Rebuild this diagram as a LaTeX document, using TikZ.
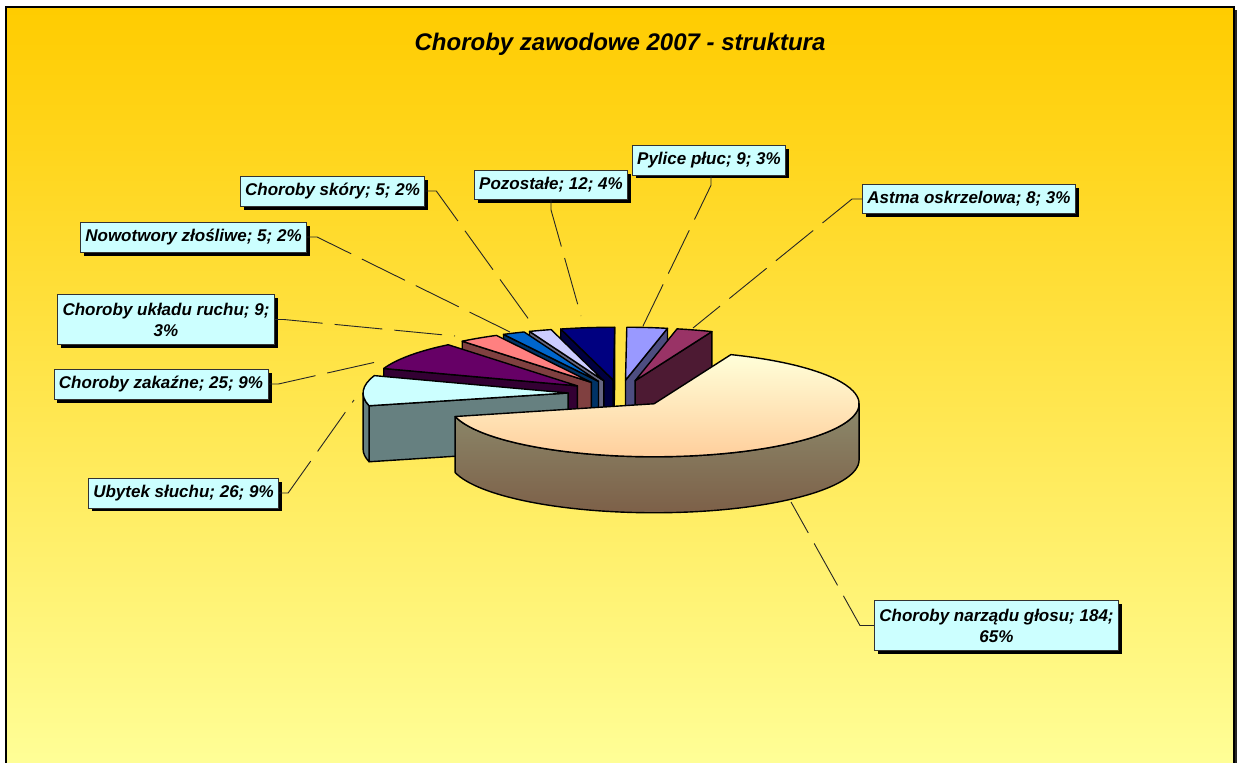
\documentclass[tikz,border=0pt]{standalone}
\usepackage{fontspec}
\setmainfont{Liberation Sans}
\usetikzlibrary{shadows}
\definecolor{bgtop}{HTML}{FFCC00}
\definecolor{bgbot}{HTML}{FFFF99}
\definecolor{lblfill}{HTML}{CCFFFF}
\definecolor{ubytop}{HTML}{CCFFFF}\definecolor{ubyside}{HTML}{668080}
\definecolor{zaktop}{HTML}{660066}\definecolor{zakside}{HTML}{330033}
\definecolor{ructop}{HTML}{FF8080}\definecolor{rucside}{HTML}{804040}
\definecolor{nowtop}{HTML}{0066CC}\definecolor{nowside}{HTML}{003366}
\definecolor{skotop}{HTML}{CCCCFF}\definecolor{skoside}{HTML}{666680}
\definecolor{poztop}{HTML}{000080}\definecolor{pozside}{HTML}{000040}
\definecolor{pyltop}{HTML}{9999FF}\definecolor{pylside}{HTML}{4D4D80}
\definecolor{asttop}{HTML}{993366}\definecolor{astside}{HTML}{4D1A33}
\definecolor{bigtoptop}{HTML}{FFFFD9}\definecolor{bigtopbot}{HTML}{FFCC99}
\definecolor{bigsidetop}{HTML}{8C8A6C}\definecolor{bigsidebot}{HTML}{7D6048}
\newcommand\pietop[3]{%
  \filldraw[pieedge, fill=#3] (0,0) -- (#1:205 and 53) arc[start angle=#1, end angle=#2, x radius=205, y radius=53] -- cycle;}
\newcommand\pieface[2]{%
  \filldraw[pieedge, fill=#2] (0,0) -- (#1:205 and 53) -- ++(0,-56) -- (0,-56) -- cycle;}
\newcommand\piewall[3]{%
  \filldraw[pieedge, fill=#3] (#1:205 and 53) arc[start angle=#1, end angle=#2, x radius=205, y radius=53] -- ++(0,-56) arc[start angle=#2, end angle=#1, x radius=205, y radius=53] -- cycle;}
\begin{document}
\begin{tikzpicture}[x=1pt,y=1pt,
  pieedge/.style={draw=black, line width=1.4pt, line join=round},
  lbl/.style={draw=black!80, line width=0.8pt, fill=lblfill, align=center,
    font=\fontsize{17}{21}\selectfont\bfseries\itshape, inner xsep=5pt, inner ysep=7pt,
    drop shadow={shadow xshift=3.5pt, shadow yshift=-3.5pt, fill=black, opacity=1}},
  lbltwo/.style={lbl, inner ysep=8pt},
  leader/.style={draw=black!85, line width=0.9pt, dash pattern=on 48pt off 12pt}]
\useasboundingbox (0,0) rectangle (1237,-763);
\clip (0,0) rectangle (1237,-763);
\fill[white] (0,0) rectangle (1237,-763);
% frame
\fill[black!85] (9,-10) rectangle (1237,-790);
\path[draw=black, line width=1.5pt, top color=bgtop, bottom color=bgbot] (6,-7) rectangle (1234,-775);
% title
\node[anchor=base, font=\fontsize{24}{28}\selectfont\bfseries\itshape] (title) at (620,-50) {Choroby zawodowe 2007 - struktura};
% labels
\node[lbl] (pyl) at (709,-160) {Pylice płuc; 9; 3\%};
\node[lbl] (ast) at (969,-199) {Astma oskrzelowa; 8; 3\%};
\node[lbl] (poz) at (551,-185) {Pozostałe; 12; 4\%};
\node[lbl] (sko) at (332.5,-191) {Choroby skóry; 5; 2\%};
\node[lbl] (now) at (193.5,-237) {Nowotwory złośliwe; 5; 2\%};
\node[lbltwo] (ruc) at (166,-319.5) {Choroby układu ruchu; 9;\\3\%};
\node[lbl] (zak) at (161,-384) {Choroby zakaźne; 25; 9\%};
\node[lbl] (uby) at (183.5,-493) {Ubytek słuchu; 26; 9\%};
\node[lbltwo] (nar) at (996.5,-625.5) {Choroby narządu głosu; 184;\\65\%};
% leader ends
\coordinate (pylE) at (643,-326);
\coordinate (astE) at (693,-328);
\coordinate (pozE) at (581,-316);
\coordinate (skoE) at (535,-328);
\coordinate (nowE) at (510,-332);
\coordinate (rucE) at (455,-336);
\coordinate (zakE) at (385,-360);
\coordinate (ubyE) at (354,-400);
\coordinate (narE) at (791,-502);
\draw[leader] ([xshift=2pt]pyl.south) -- ++(0,-10) -- (pylE);
\draw[leader] (ast.west) -- ++(-10,0) -- (astE);
\draw[leader] (poz.south) -- ++(0,-10) -- (pozE);
\draw[leader] (sko.east) -- ++(11,0) -- (skoE);
\draw[leader] (now.east) -- ++(10,0) -- (nowE);
\draw[leader] (ruc.east) -- ++(9,0) -- (rucE);
\draw[leader] (zak.east) -- ++(10,0) -- (zakE);
\draw[leader] (uby.east) -- ++(9,0) -- (ubyE);
\draw[leader] (nar.west) -- ++(-14,0) -- (narE);
% pie
\begin{scope}[shift={(620,-393.6)}]
  % Pylice plus
  \begin{scope}[shift={(83.92:52 and 13.45)}]
    \pieface{78.19}{pylside}\pietop{78.19}{89.64}{pyltop}
  \end{scope}
  % Pozostale
  \begin{scope}[shift={(97.27:52 and 13.45)}]
    \pieface{104.90}{pozside}\pieface{89.64}{pozside}\pietop{89.64}{104.90}{poztop}
  \end{scope}
  % Astma
  \begin{scope}[shift={(73.10:52 and 13.45)}]
    \pieface{68.01}{astside}\pietop{68.01}{78.19}{asttop}
  \end{scope}
  % Choroby skory
  \begin{scope}[shift={(108.08:52 and 13.45)}]
    \pieface{111.26}{skoside}\pietop{104.90}{111.26}{skotop}
  \end{scope}
  % Nowotwory
  \begin{scope}[shift={(114.44:52 and 13.45)}]
    \pieface{117.62}{nowside}\pietop{111.26}{117.62}{nowtop}
  \end{scope}
  % ukladu ruchu
  \begin{scope}[shift={(123.35:52 and 13.45)}]
    \pieface{129.07}{rucside}\pietop{117.62}{129.07}{ructop}
  \end{scope}
  % zakazne
  \begin{scope}[shift={(144.97:52 and 13.45)}]
    \pieface{160.87}{zakside}\pietop{129.07}{160.87}{zaktop}
  \end{scope}
  % Ubytek sluchu
  \begin{scope}[shift={(177.40:52 and 13.45)}]
    \pieface{193.94}{ubyside}\piewall{180}{193.94}{ubyside}\pietop{160.87}{193.94}{ubytop}
  \end{scope}
  % narzadu glosu
  \begin{scope}[shift={(-49.03:52 and 13.45)}]
    \path[pieedge, top color=bigsidetop, bottom color=bigsidebot] (-166.06:205 and 53) arc[start angle=-166.06, end angle=0, x radius=205, y radius=53] -- ++(0,-56) arc[start angle=0, end angle=-166.06, x radius=205, y radius=53] -- cycle;
    \path[pieedge, top color=bigtoptop, bottom color=bigtopbot] (0,0) -- (-166.06:205 and 53) arc[start angle=-166.06, end angle=68, x radius=205, y radius=53] -- cycle;
  \end{scope}
\end{scope}
\end{tikzpicture}
\end{document}
